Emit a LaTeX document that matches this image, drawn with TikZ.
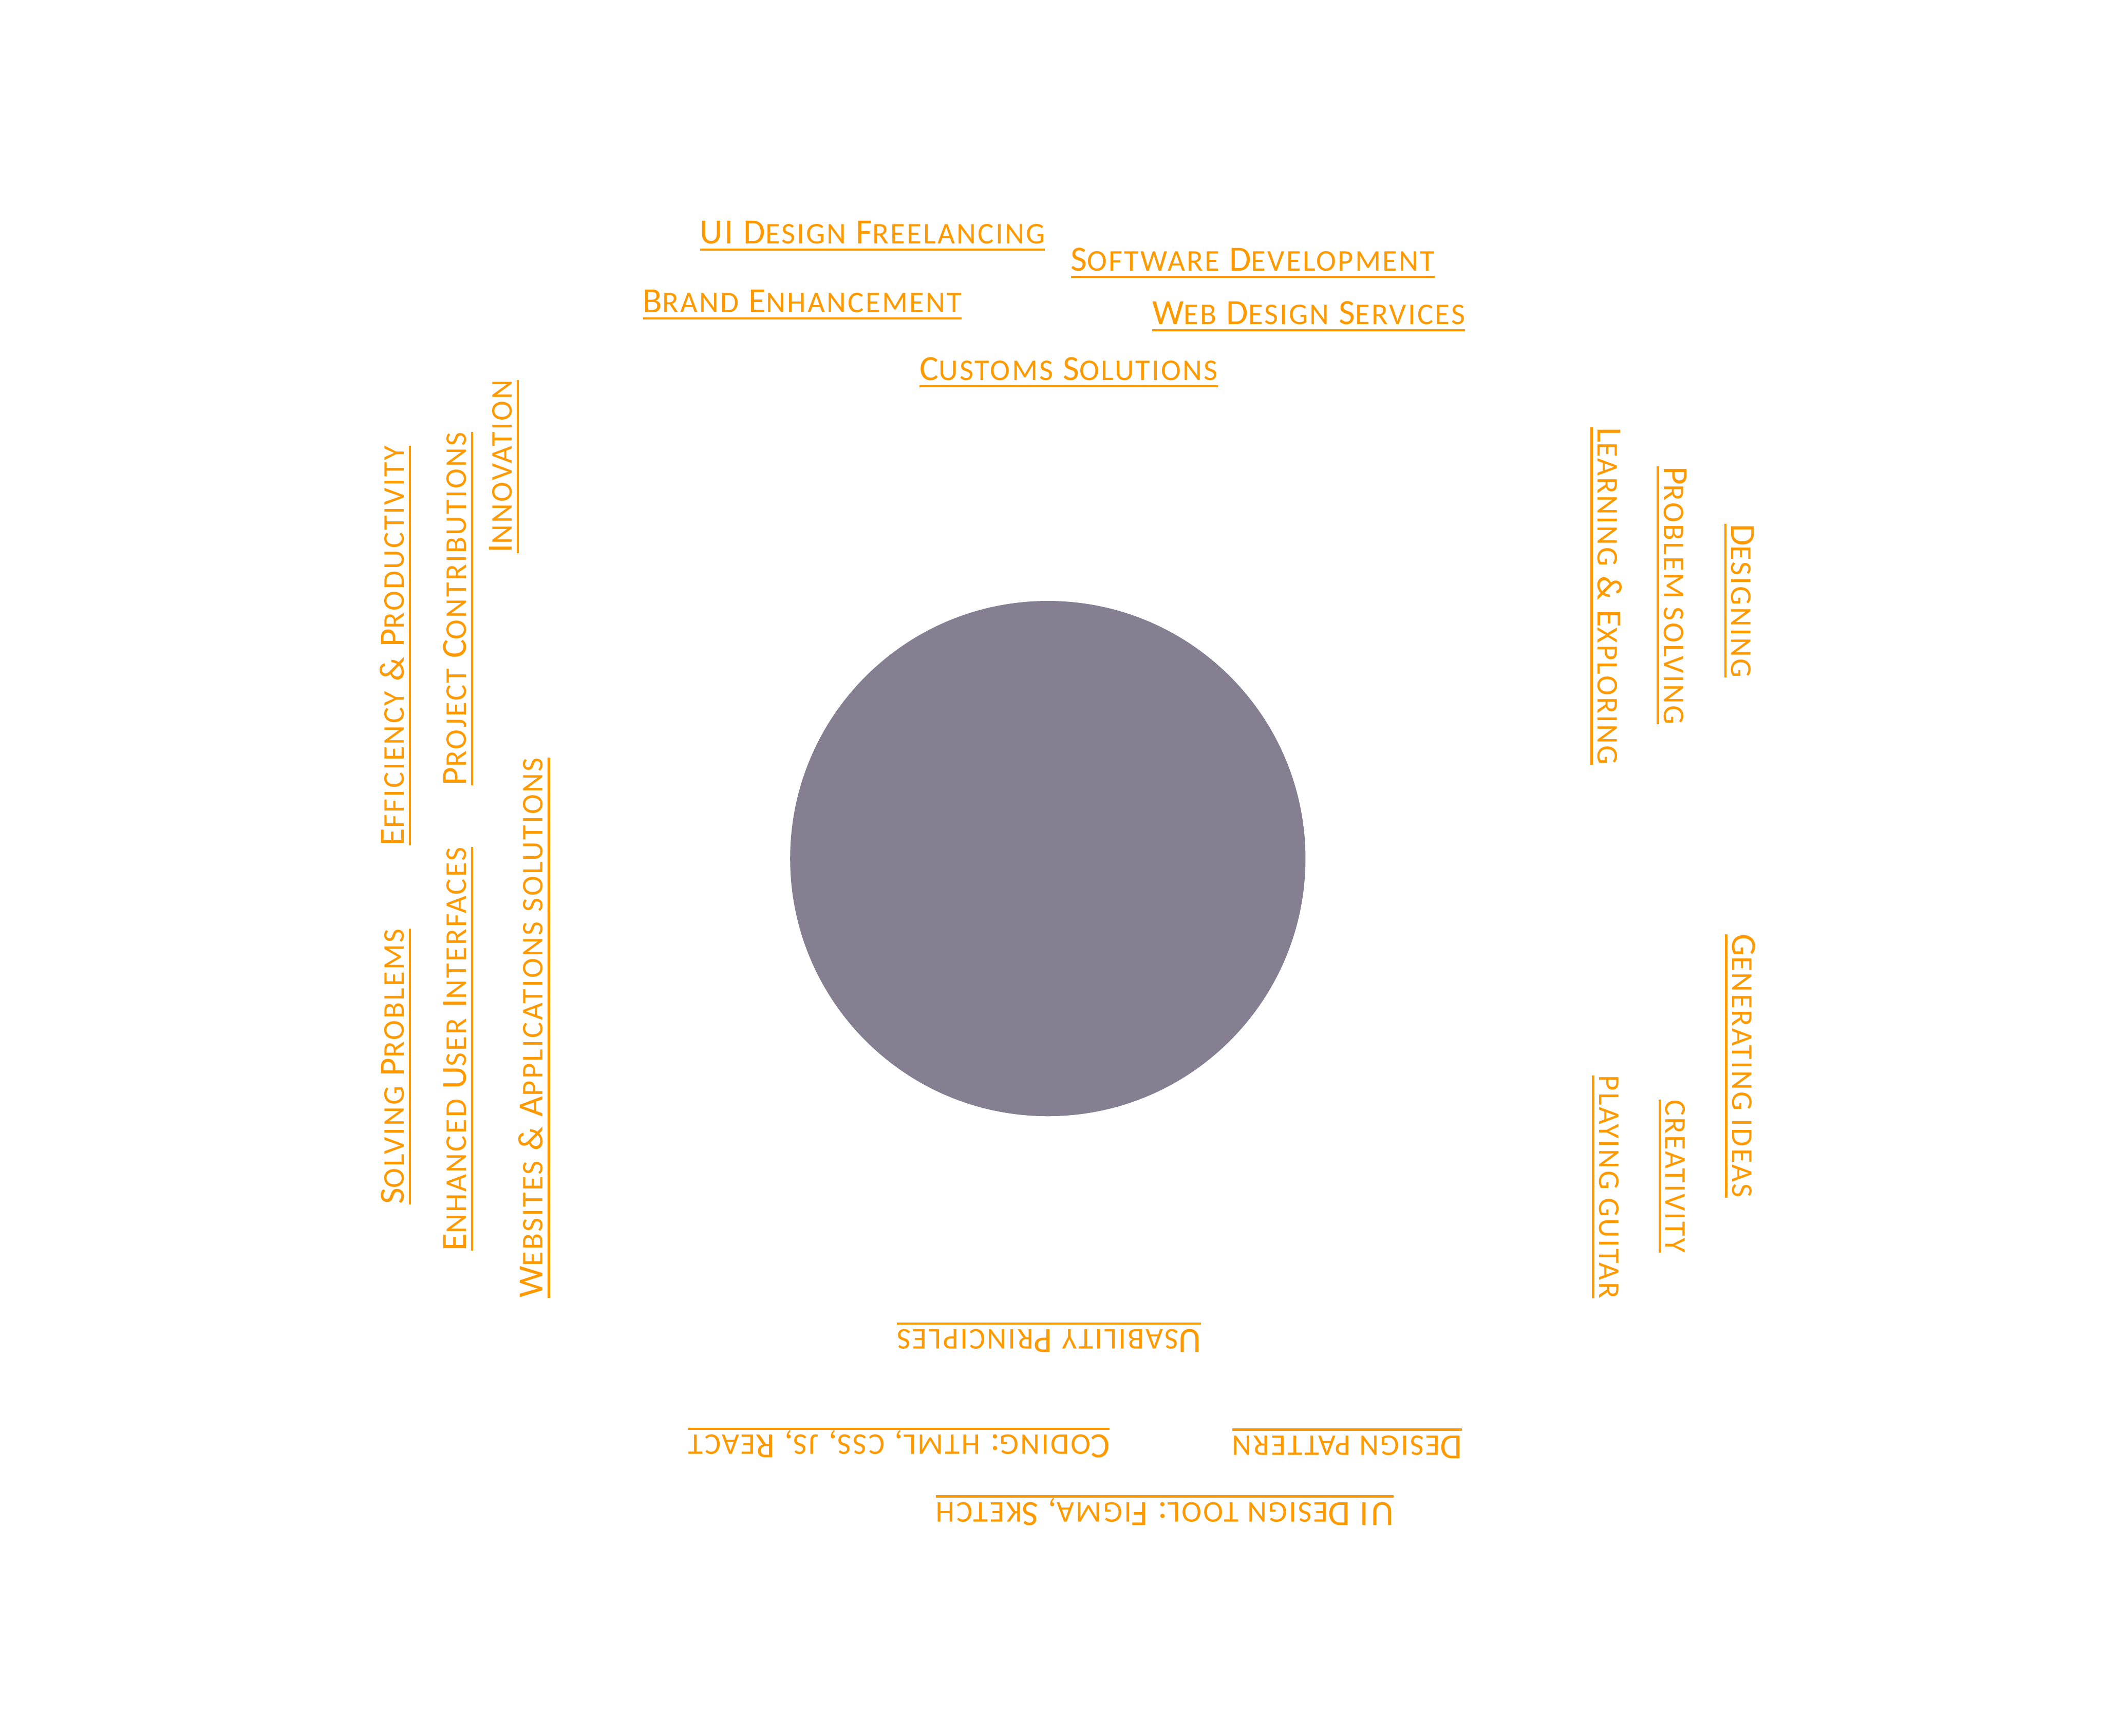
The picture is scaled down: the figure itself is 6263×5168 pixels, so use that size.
\documentclass[tikz,border=0pt]{standalone}
\usepackage{fontspec}
\setmainfont{Carlito}[LetterSpace=5.5]
\definecolor{orng}{RGB}{255,153,0}
\definecolor{disc}{RGB}{134,127,145}
\newcommand\sm[1]{{\fontsize{25.5}{25.5}\selectfont #1}}
\newcommand\ulx[1]{\setbox0\hbox{#1}\rlap{\rule[-0.215cm]{\wd0}{0.07cm}}\box0}
\begin{document}
\begin{tikzpicture}[x=0.01cm,y=-0.01cm,
  lbl/.style={text=orng,inner sep=0pt,anchor=base west,font=\fontsize{30}{30}\selectfont},
  up/.style={lbl,rotate=90},
  down/.style={lbl,rotate=-90},
  flip/.style={lbl,rotate=180}]
\path[use as bounding box] (0,0) rectangle (6263,5168);
\fill[disc] (3119,2556) circle[radius=767];
\node[circle,minimum size=15.34cm,inner sep=0pt] (hub) at (3119,2556) {};
% top
\node[lbl] (t1) at (2083,725) {\color{orng}\ulx{UI D\sm{ESIGN} F\sm{REELANCING}}};
\node[lbl] (t2) at (3187,806) {\color{orng}\ulx{S\sm{OFTWARE} D\sm{EVELOPMENT}}};
\node[lbl] (t3) at (1913,930) {\color{orng}\ulx{B\sm{RAND} E\sm{NHANCEMENT}}};
\node[lbl] (t4) at (3429,965) {\color{orng}\ulx{W\sm{EB} D\sm{ESIGN} S\sm{ERVICES}}};
\node[lbl] (t5) at (2737,1132) {\color{orng}\ulx{C\sm{USTOMS} S\sm{OLUTIONS}}};
% left
\node[up] (l1) at (1202,2518) {\color{orng}\ulx{E\sm{FFICIENCY} \& P\sm{RODUCTIVITY}}};
\node[up] (l2) at (1202,3586) {\color{orng}\ulx{S\sm{OLVING} P\sm{ROBLEMS}}};
\node[up] (l3) at (1387,2339) {\color{orng}\ulx{P\sm{ROJECT} C\sm{ONTRIBUTIONS}}};
\node[up] (l4) at (1387,3724) {\color{orng}\ulx{E\sm{NHANCED} U\sm{SER} I\sm{NTERFACES}}};
\node[up] (l5) at (1523,1647) {\color{orng}\ulx{I\sm{NNOVATION}}};
\node[up] (l6) at (1616,3864) {\color{orng}\ulx{W\sm{EBSITES} \& A\sm{PPLICATIONS} \sm{SOLUTIONS}}};
% right
\node[down] (r1) at (4756,1272) {\color{orng}\ulx{L\sm{EARNING} \& E\sm{XPLORING}}};
\node[down] (r2) at (4953,1388) {\color{orng}\ulx{P\sm{ROBLEM SOLVING}}};
\node[down] (r3) at (5154,1559) {\color{orng}\ulx{D\sm{ESIGNING}}};
\node[down] (r4) at (5156,2780) {\color{orng}\ulx{G\sm{ENERATING IDEAS}}};
\node[down] (r5) at (4958,3273) {\color{orng}\ulx{\sm{CREATIVITY}}};
\node[down] (r6) at (4760,3201) {\color{orng}\ulx{\sm{PLAYING GUITAR}}};
% bottom
\node[flip] (b1) at (3576,3958) {\color{orng}\ulx{U\sm{SABILITY} P\sm{RINCIPLES}}};
\node[flip] (b2) at (3304,4272) {\color{orng}\ulx{C\sm{ODING}: \sm{HTML}, \sm{CSS}, \sm{JS}, R\sm{EACT}}};
\node[flip] (b3) at (4353,4274) {\color{orng}\ulx{D\sm{ESIGN PATTERN}}};
\node[flip] (b4) at (4149,4473) {\color{orng}\ulx{UI D\sm{ESIGN TOOL}: F\sm{IGMA}, S\sm{KETCH}}};
\end{tikzpicture}
\end{document}
